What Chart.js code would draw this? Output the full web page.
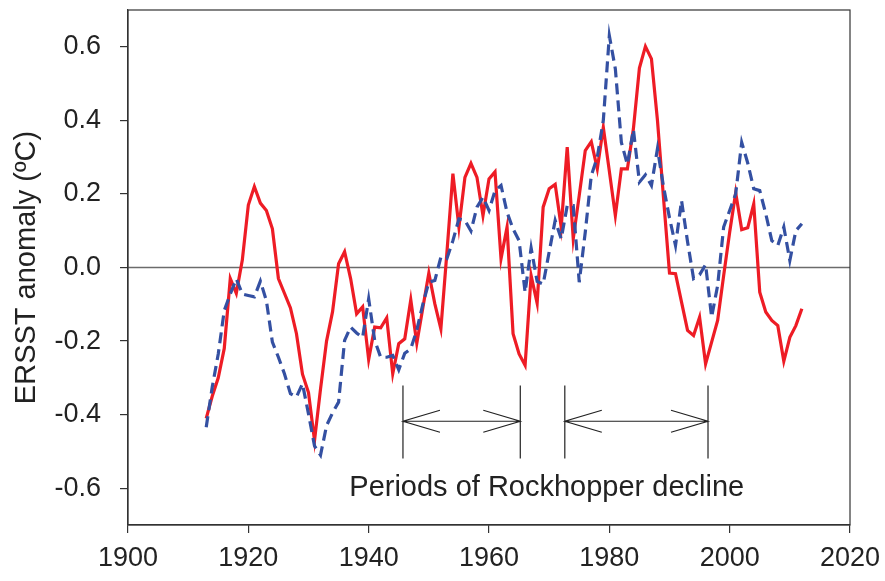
<!DOCTYPE html>
<html>
<head>
<meta charset="utf-8">
<script src="https://cdn.jsdelivr.net/npm/chart.js@4.4.1/dist/chart.umd.min.js"></script>
<style>
  html, body { margin: 0; padding: 0; background: #ffffff; }
  #wrap { width: 885px; height: 581px; }
</style>
</head>
<body>
<div id="wrap"><canvas id="c" width="885" height="581"></canvas></div>
<script>
// ---- data ----
const years = [];
for (let y = 1913; y <= 2012; y++) years.push(y);

const redSeries = [
  -0.41, -0.35, -0.30, -0.22, -0.03, -0.07, 0.02, 0.17, 0.22, 0.175,
  0.155, 0.105, -0.03, -0.07, -0.11, -0.18, -0.29, -0.34, -0.47, -0.33,
  -0.20, -0.12, 0.01, 0.043, -0.03, -0.126, -0.107, -0.25, -0.162, -0.164,
  -0.137, -0.289, -0.207, -0.194, -0.088, -0.206, -0.11, -0.015, -0.099, -0.167,
  0.04, 0.255, 0.11, 0.245, 0.283, 0.245, 0.141, 0.241, 0.26, 0.024,
  0.11, -0.18, -0.235, -0.266, -0.022, -0.097, 0.164, 0.214, 0.226, 0.11,
  0.327, 0.078, 0.196, 0.318, 0.342, 0.268, 0.381, 0.262, 0.141, 0.268,
  0.268, 0.377, 0.542, 0.601, 0.567, 0.40, 0.19, -0.015, -0.017, -0.094,
  -0.171, -0.185, -0.135, -0.262, -0.203, -0.144, -0.022, 0.096, 0.203, 0.103,
  0.108, 0.173, -0.067, -0.121, -0.144, -0.158, -0.255, -0.19, -0.158, -0.112
];

const blueSeries = [
  -0.434, -0.325, -0.235, -0.117, -0.072, -0.031, -0.072, -0.076, -0.08, -0.037,
  -0.09, -0.203, -0.244, -0.289, -0.343, -0.352, -0.316, -0.398, -0.485, -0.51,
  -0.43, -0.395, -0.366, -0.198, -0.162, -0.178, -0.19, -0.085, -0.198, -0.244,
  -0.244, -0.239, -0.278, -0.233, -0.221, -0.17, -0.10, -0.04, -0.035, 0.028,
  0.024, 0.073, 0.132, 0.128, 0.099, 0.164, 0.191, 0.155, 0.209, 0.223,
  0.15, 0.105, 0.073, -0.067, 0.053, -0.038, -0.045, 0.042, 0.128, 0.078,
  0.168, 0.168, -0.04, 0.096, 0.25, 0.30, 0.40, 0.63, 0.54, 0.34,
  0.28, 0.375, 0.232, 0.252, 0.223, 0.323, 0.22, 0.135, 0.06, 0.182,
  0.07, -0.03, -0.02, 0.008, -0.135, -0.049, 0.11, 0.155, 0.2, 0.34,
  0.284, 0.214, 0.209, 0.146, 0.073, 0.06, 0.11, 0.019, 0.1, 0.119
];

const xTickValues = [1900, 1920, 1940, 1960, 1980, 2000, 2020];
const yTickValues = [-0.6, -0.4, -0.2, 0.0, 0.2, 0.4, 0.6];

// periods of decline (years) and annotation text
const periodStarts = [1945.7, 1972.6];
const periodEnds   = [1965.2, 1996.4];
const periodArrowY = -0.418;
const periodBarTop = -0.321;
const periodBarBottom = -0.519;
const periodLabel = 'Periods of Rockhopper decline';
const periodLabelX = 1969.6;
const periodLabelY = -0.60;

const FONT = "'Liberation Sans', Arial, Helvetica, sans-serif";

const toPoints = (vals) => vals.map((v, i) => ({ x: years[i], y: v }));

const overlayPlugin = {
  id: 'overlay',
  beforeDatasetsDraw(chart) {
    const { ctx, chartArea: a, scales: { x, y } } = chart;
    ctx.save();
    const y0 = y.getPixelForValue(0);
    ctx.strokeStyle = '#6b6b6b';
    ctx.lineWidth = 1.5;
    ctx.beginPath();
    ctx.moveTo(a.left, y0);
    ctx.lineTo(a.right, y0);
    ctx.stroke();
    ctx.restore();
  },
  afterDatasetsDraw(chart) {
    const { ctx, chartArea: a, scales: { x, y } } = chart;
    ctx.save();
    ctx.strokeStyle = '#333333';
    ctx.lineWidth = 1.2;
    ctx.strokeRect(a.left, a.top, a.right - a.left, a.bottom - a.top);

    ctx.strokeStyle = '#222222';
    ctx.lineWidth = 1.2;
    const ay = y.getPixelForValue(periodArrowY);
    const bt = y.getPixelForValue(periodBarTop);
    const bb = y.getPixelForValue(periodBarBottom);
    for (let i = 0; i < periodStarts.length; i++) {
      const x1 = x.getPixelForValue(periodStarts[i]);
      const x2 = x.getPixelForValue(periodEnds[i]);
      ctx.beginPath();
      ctx.moveTo(x1, bt); ctx.lineTo(x1, bb);
      ctx.moveTo(x2, bt); ctx.lineTo(x2, bb);
      ctx.moveTo(x1, ay); ctx.lineTo(x2, ay);
      ctx.moveTo(x1 + 37, ay - 11); ctx.lineTo(x1, ay); ctx.lineTo(x1 + 37, ay + 11);
      ctx.moveTo(x2 - 37, ay - 11); ctx.lineTo(x2, ay); ctx.lineTo(x2 - 37, ay + 11);
      ctx.stroke();
    }
    ctx.fillStyle = '#222222';
    ctx.font = '29px ' + FONT;
    ctx.textAlign = 'center';
    ctx.textBaseline = 'middle';
    ctx.fillText(periodLabel, x.getPixelForValue(periodLabelX), y.getPixelForValue(periodLabelY));
    ctx.restore();
  }
};

new Chart(document.getElementById('c'), {
  type: 'line',
  data: {
    datasets: [
      {
        label: 'dashed',
        data: toPoints(blueSeries),
        borderColor: '#3450a2',
        borderWidth: 3.2,
        borderDash: [11, 6],
        pointRadius: 0,
        tension: 0,
        fill: false,
        order: 0
      },
      {
        label: 'solid',
        data: toPoints(redSeries),
        borderColor: '#ee1c25',
        borderWidth: 3.2,
        pointRadius: 0,
        tension: 0,
        fill: false,
        order: 1
      }
    ]
  },
  options: {
    responsive: false,
    devicePixelRatio: 1,
    animation: false,
    layout: { padding: { left: 0, right: 35, top: 10, bottom: 0 } },
    plugins: {
      legend: { display: false },
      tooltip: { enabled: false }
    },
    scales: {
      x: {
        type: 'linear',
        min: 1900,
        max: 2020,
        afterBuildTicks: (s) => { s.ticks = xTickValues.map(v => ({ value: v })); },
        afterFit: (s) => { s.height = 56; s.paddingLeft = 0; s.paddingRight = 0; },
        grid: { drawOnChartArea: false, drawTicks: true, tickLength: 8, color: '#333333', lineWidth: 1.2 },
        border: { display: true, color: '#333333', width: 1.2 },
        ticks: {
          color: '#222222',
          font: { family: FONT, size: 27 },
          padding: 9,
          maxRotation: 0,
          callback: (v) => String(v)
        }
      },
      y: {
        type: 'linear',
        min: -0.7,
        max: 0.7,
        afterBuildTicks: (s) => { s.ticks = yTickValues.map(v => ({ value: v })); },
        afterFit: (s) => { s.width = 128; s.paddingTop = 0; s.paddingBottom = 0; },
        grid: { drawOnChartArea: false, drawTicks: true, tickLength: 8, color: '#333333', lineWidth: 1.2 },
        border: { display: true, color: '#333333', width: 1.2 },
        ticks: {
          color: '#222222',
          font: { family: FONT, size: 27 },
          padding: 19,
          callback: (v) => Number(v).toFixed(1)
        },
        title: {
          display: true,
          text: 'ERSST anomaly (ºC)',
          color: '#222222',
          font: { family: FONT, size: 29 },
          padding: { top: 10, bottom: 0 }
        }
      }
    }
  },
  plugins: [overlayPlugin]
});
</script>
</body>
</html>
